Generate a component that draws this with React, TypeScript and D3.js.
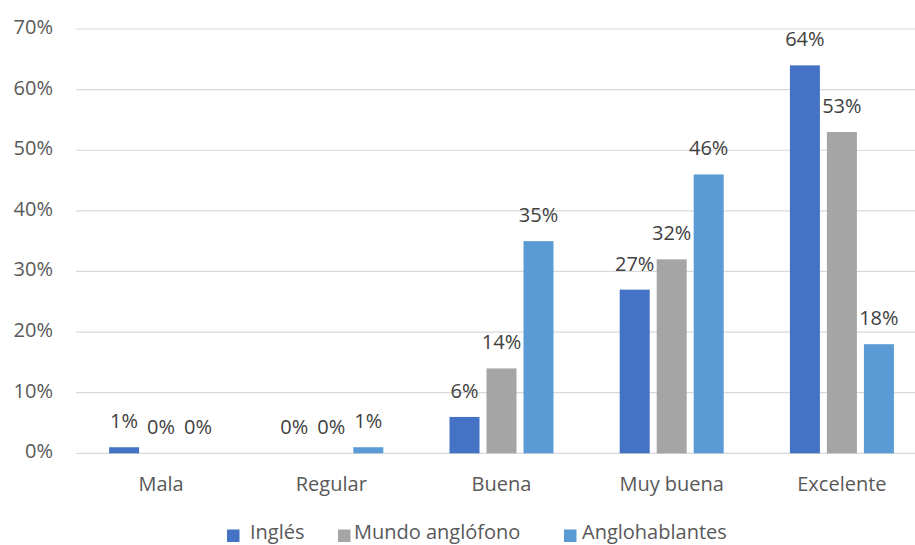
import React from "react";
import * as d3 from "d3";

const categories = ["Mala", "Regular", "Buena", "Muy buena", "Excelente"];
const seriesNames = ["Inglés", "Mundo anglófono", "Anglohablantes"];
const ingles = [1, 0, 6, 27, 64];
const mundoAnglofono = [0, 0, 14, 32, 53];
const anglohablantes = [0, 1, 35, 46, 18];
const yTicks = [0, 10, 20, 30, 40, 50, 60, 70];

const seriesValues = [ingles, mundoAnglofono, anglohablantes];
const colors = ["#4472C4", "#A5A5A5", "#5B9BD5"];

const W = 915;
const H = 545;
const FONT = "'Open Sans', sans-serif";
const FS = 20;

export default function App() {
  const x0 = d3.scaleBand<string>().domain(categories).range([76, 927]).padding(0);
  const x1 = d3
    .scaleBand<string>()
    .domain(seriesNames)
    .range([-52, 52])
    .paddingInner(7 / 37)
    .paddingOuter(0);
  const y = d3.scaleLinear().domain([0, 70]).range([453.3, 29]);

  const legendPos = [
    { sq: 227, tx: 250 },
    { sq: 338, tx: 354 },
    { sq: 564, tx: 582 },
  ];

  return (
    <svg
      width={W}
      height={H}
      style={{ position: "absolute", left: 0, top: 0, background: "#fff" }}
      fontFamily={FONT}
    >
      <rect x={0} y={0} width={W} height={H} fill="#fff" />
      {yTicks.map((t) => (
        <g key={t}>
          <line x1={76} x2={927} y1={y(t)} y2={y(t)} stroke="#D9D9D9" strokeWidth={1.2} />
          <text x={53} y={y(t) + 5} textAnchor="end" fontSize={FS} fill="#595959">
            {t}%
          </text>
        </g>
      ))}
      {categories.map((c, ci) => {
        const cx = (x0(c) as number) + x0.bandwidth() / 2;
        return (
          <g key={c}>
            {seriesNames.map((s, si) => {
              const v = seriesValues[si][ci];
              const bx = cx + (x1(s) as number);
              const bw = x1.bandwidth();
              return (
                <g key={s}>
                  {v > 0 && (
                    <rect x={bx} y={y(v)} width={bw} height={y(0) - y(v)} fill={colors[si]} />
                  )}
                  <text
                    x={bx + bw / 2}
                    y={y(v) - 19}
                    textAnchor="middle"
                    fontSize={FS}
                    fill="#404040"
                  >
                    {v}%
                  </text>
                </g>
              );
            })}
            <text x={cx} y={491} textAnchor="middle" fontSize={FS} fill="#595959">
              {c}
            </text>
          </g>
        );
      })}
      {seriesNames.map((s, si) => (
        <g key={s}>
          <rect x={legendPos[si].sq} y={529.5} width={12.5} height={12.5} fill={colors[si]} />
          <text x={legendPos[si].tx} y={538.5} fontSize={FS} fill="#595959">
            {s}
          </text>
        </g>
      ))}
    </svg>
  );
}
